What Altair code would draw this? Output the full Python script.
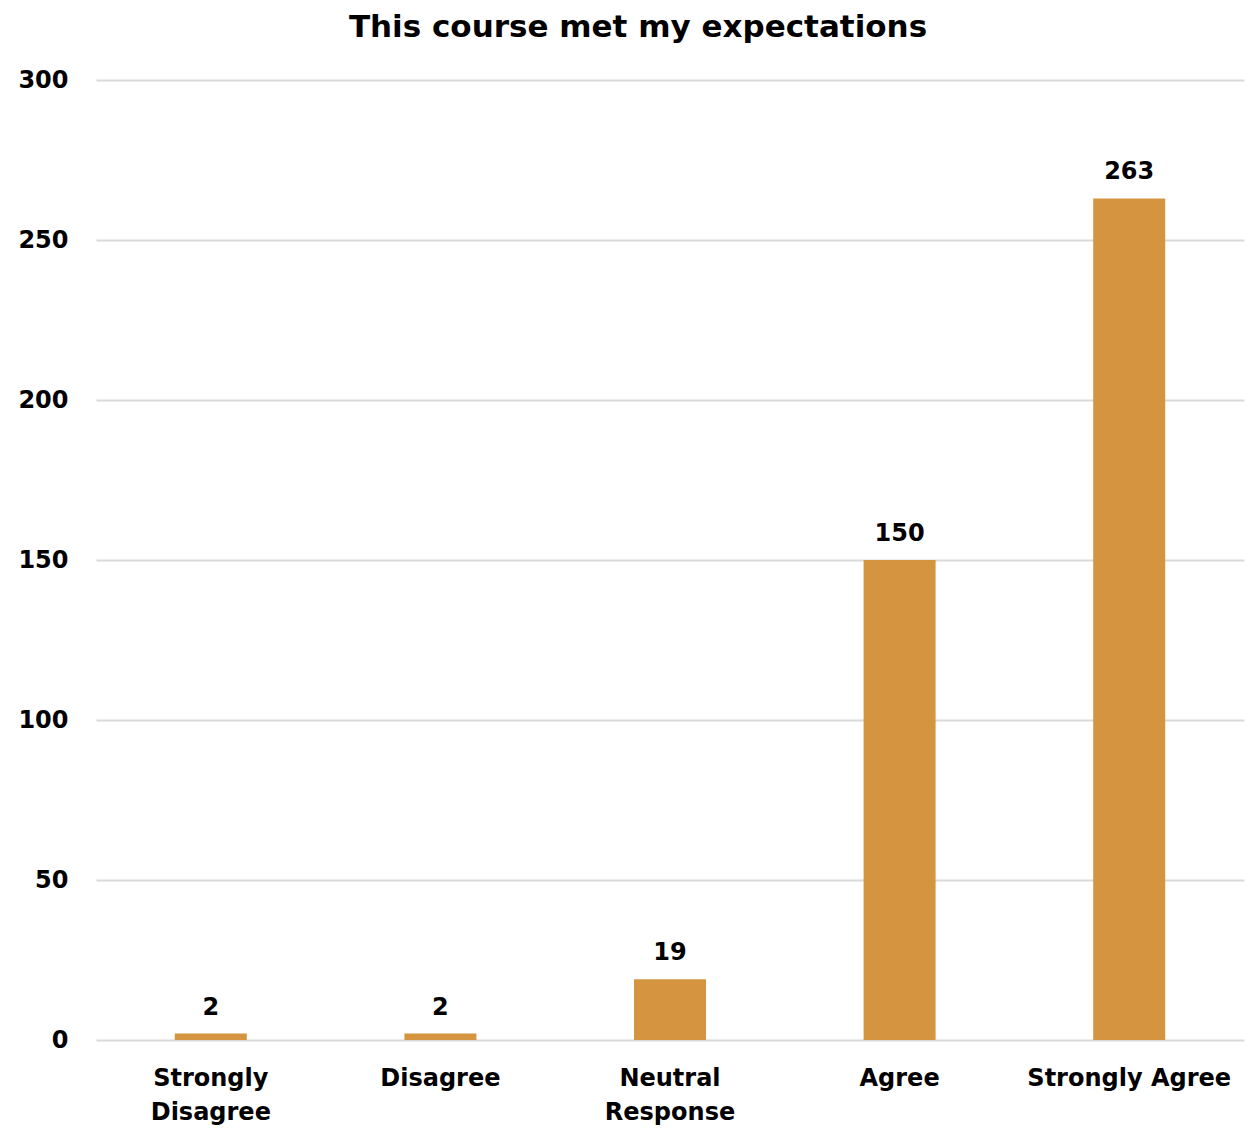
import altair as alt
import pandas as pd

categories = ["Strongly Disagree", "Disagree", "Neutral Response", "Agree", "Strongly Agree"]
counts = [2, 2, 19, 150, 263]
y_ticks = [0, 50, 100, 150, 200, 250, 300]

df = pd.DataFrame({"category": categories, "count": counts})

FONT = "DejaVu Sans"

x = alt.X(
    "category:N",
    sort=categories,
    title=None,
    scale=alt.Scale(paddingInner=0, paddingOuter=0),
    axis=alt.Axis(
        labelAngle=0,
        labelFont=FONT,
        labelFontSize=24,
        labelFontWeight="bold",
        labelColor="#000000",
        labelPadding=26,
        labelLineHeight=34,
        labelBaseline="top",
        labelLimit=0,
        domain=False,
        ticks=False,
        grid=False,
        labelExpr="datum.label == 'Strongly Disagree' ? ['Strongly', 'Disagree'] : datum.label == 'Neutral Response' ? ['Neutral', 'Response'] : datum.label",
    ),
)

y = alt.Y(
    "count:Q",
    title=None,
    scale=alt.Scale(domain=[0, 300], nice=False),
    axis=alt.Axis(
        values=y_ticks,
        labelFont=FONT,
        labelFontSize=24,
        labelFontWeight="bold",
        labelColor="#000000",
        labelPadding=28,
        domain=False,
        ticks=False,
        gridColor="#d9d9d9",
        gridWidth=2,
    ),
)

bars = alt.Chart(df).mark_bar(size=72, color="#D59440").encode(x=x, y=y)

labels = alt.Chart(df).mark_text(
    font=FONT, fontSize=24, fontWeight="bold", color="#000000",
    baseline="alphabetic", dy=-19,
).encode(x=x, y=y, text="count:Q")

chart = (
    alt.layer(bars, labels)
    .properties(
        width=1148,
        height=960,
        autosize=alt.AutoSizeParams(type="none"),
        padding={"left": 88, "top": 72, "right": 4, "bottom": 86},
        title=alt.TitleParams(
            "This course met my expectations",
            font=FONT,
            fontSize=31,
            fontWeight="bold",
            color="#000000",
            anchor="middle",
            frame="group",
            dx=-32,
            offset=24,
        ),
    )
    .configure_view(stroke=None)
)

chart.save("out.html", embed_options={"renderer": "svg", "actions": False})
